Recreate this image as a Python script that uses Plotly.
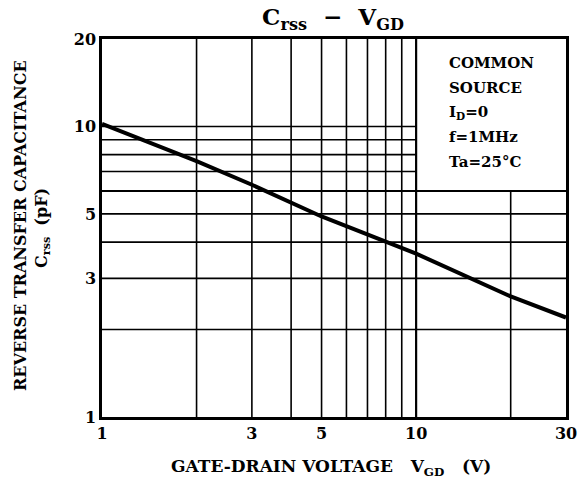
import plotly.graph_objects as go
import math

# data
vgd = [1, 2, 3, 5, 10, 20, 30]
crss = [10.2, 7.6, 6.3, 4.9, 3.65, 2.6, 2.2]
x_ticks = [1, 3, 5, 10, 30]
y_ticks = [1, 3, 5, 10, 20]
box_lines = ["COMMON", "SOURCE", "I<sub>D</sub>=0", "f=1MHz", "Ta=25°C"]

FONT = "DejaVu Serif"
L, R, T, B = 102, 566, 39, 417
W, H = 581, 484
PW, PH = R - L, B - T

def px(xp):
    return (xp - L) / PW
def py(yp):
    return (B - yp) / PH

fig = go.Figure()
fig.add_trace(go.Scatter(x=vgd, y=crss, mode="lines",
                         line=dict(color="black", width=4), showlegend=False,
                         hoverinfo="skip"))

shapes = []
def vline(x, y0, y1, w=1.6):
    shapes.append(dict(type="line", xref="x", yref="y", x0=x, x1=x, y0=y0, y1=y1,
                       line=dict(color="black", width=w), layer="below"))
def hline(y, x0, x1, w=1.6):
    shapes.append(dict(type="line", xref="x", yref="y", x0=x0, x1=x1, y0=y, y1=y,
                       line=dict(color="black", width=w), layer="below"))

for x in [2, 3, 4, 5, 6, 7, 8, 9]:
    vline(x, 1, 20)
vline(10, 1, 20, 2.2)
vline(20, 1, 6)
for y in [2, 3, 4, 5]:
    hline(y, 1, 30)
hline(6, 1, 30, 2)
for y in [7, 8, 9, 10]:
    hline(y, 1, 10)

bold = lambda s: dict(family=FONT, size=s, color="black", weight="bold")
annotations = []
ys = [63, 88, 112, 137, 162]
for txt, yp in zip(box_lines, ys):
    annotations.append(dict(text=txt, xref="paper", yref="paper",
                            x=px(447), y=py(yp),
                            xanchor="left", yanchor="middle", showarrow=False,
                            font=bold(15)))
# y-axis title (two lines)
annotations.append(dict(text="REVERSE TRANSFER CAPACITANCE", xref="paper", yref="paper",
                        x=px(21), y=py(226), xanchor="center", yanchor="middle",
                        textangle=-90, showarrow=False, font=bold(16)))
annotations.append(dict(text="C<sub>rss</sub>  (pF)", xref="paper", yref="paper",
                        x=px(42), y=py(228), xanchor="center", yanchor="middle",
                        textangle=-90, showarrow=False, font=bold(16)))
# x-axis title
annotations.append(dict(text="GATE-DRAIN VOLTAGE   V<sub>GD</sub>   (V)", xref="paper", yref="paper",
                        x=px(331), y=py(467), xanchor="center", yanchor="middle",
                        showarrow=False, font=bold(17)))

fig.update_layout(
    width=W, height=H,
    margin=dict(l=L, r=W - R, t=T, b=H - B),
    paper_bgcolor="white", plot_bgcolor="white",
    shapes=shapes, annotations=annotations,
    title=dict(text="C<sub>rss</sub>  −  V<sub>GD</sub>", x=333 / W, xanchor="center",
               y=1 - 17 / H, yanchor="middle", font=bold(23)),
    xaxis=dict(type="log", range=[0, math.log10(30)], showgrid=False, zeroline=False,
               showline=True, linecolor="black", linewidth=2.5, mirror=True, automargin=False,
               tickvals=x_ticks, ticktext=[str(v) for v in x_ticks], ticks="",
               tickfont=bold(16)),
    yaxis=dict(type="log", range=[0, math.log10(20)], showgrid=False, zeroline=False,
               showline=True, linecolor="black", linewidth=2.5, mirror=True, automargin=False,
               tickvals=y_ticks, ticktext=[str(v) for v in y_ticks], ticks="",
               tickfont=bold(16)),
)
fig.write_html("out.html", config={"displayModeBar": False},
               post_script="document.body.style.margin='0';")
